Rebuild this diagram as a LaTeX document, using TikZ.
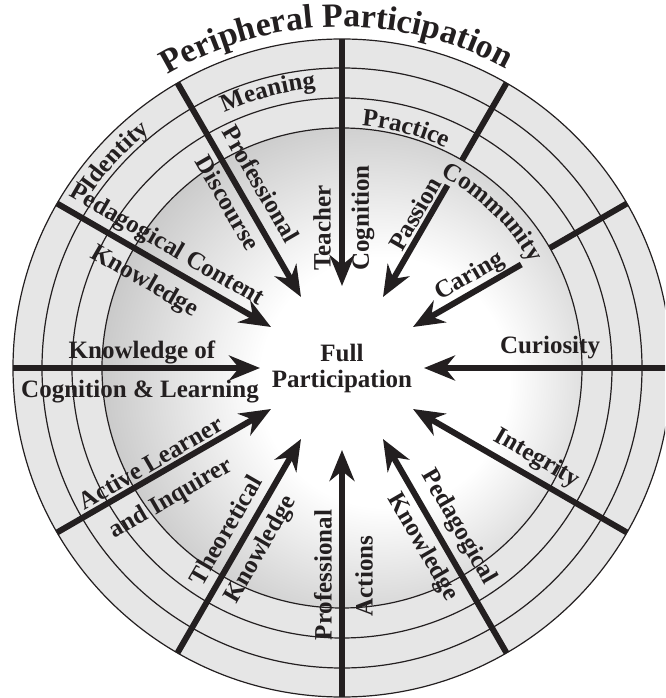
\documentclass[tikz,border=0pt]{standalone}
\usepackage{fontspec}
\setmainfont{Liberation Serif}
\usetikzlibrary{arrows.meta,decorations.text}

\definecolor{ink}{HTML}{231F20}
\definecolor{ringgray}{HTML}{E6E6E6}
\pgfdeclareradialshading{coreshade}{\pgfpoint{6bp}{-2bp}}{color(0bp)=(white); color(13bp)=(white); color(30bp)=(black!24); color(50bp)=(black!24)}
\newcommand\lblfont{\fontsize{25}{26}\selectfont\bfseries}
\newcommand\ppfont{\fontsize{34}{36}\selectfont\bfseries}

\begin{document}
\begin{tikzpicture}[x=1pt,y=1pt,
    lbl/.style={font=\lblfont, text=ink, inner sep=0pt},
    spoke/.style={draw=ink, line width=6pt},
    arr/.style={spoke, -{Stealth[length=31pt,width=25pt,inset=10pt]}},
    ring/.style={draw=ink, line width=1.2pt},
    arclbl/.style={decorate, decoration={text along path, text align=center, text color=ink, text={#1}}}]
  % \draw[help lines, gray!50, very thin] (-342,-330) grid[step=50] (323,368);
  \useasboundingbox (-342,-330) rectangle (323,368);
  \clip (-342,-330) rectangle (323,368);

  % rings
  \fill[ringgray] (0,0) circle[radius=329pt];
  \shade[shading=coreshade] (0,0) circle[radius=240pt];
  \foreach \r in {240,270,300,329}
    \draw[ring] (0,0) circle[radius=\r pt];

  % spokes
  \foreach \a in {0,90,120,150,180,210,240,270,300,330} {
    \coordinate (out\a) at (\a:329);
    \coordinate (tip\a) at (\a:82);
    \draw[arr] (out\a) -- (tip\a);
  }
  \foreach \a/\s in {60/211,30/207} {
    \coordinate (out\a) at (\a:329);
    \coordinate (cut\a) at (\a:240);
    \coordinate (start\a) at (\a:\s);
    \coordinate (tip\a) at (\a:82);
    \draw[spoke] (out\a) -- (cut\a);
    \draw[arr] (start\a) -- (tip\a);
  }

  \node[lbl, align=center] (full) at (0,0) {Full\\Participation};

  % ring labels
  \path[arclbl={|\ppfont|Peripheral Participation}] (151:341) arc[start angle=151, end angle=31, radius=341pt];
  \path[arclbl={|\lblfont|Identity}] (167:305) arc[start angle=167, end angle=107, radius=305pt];
  \path[arclbl={|\lblfont|Meaning}] (135:281) arc[start angle=135, end angle=75, radius=281pt];
  \path[arclbl={|\lblfont|Practice}] (105:243) arc[start angle=105, end angle=45, radius=243pt];
  \path[arclbl={|\lblfont|Community}] (76:216) arc[start angle=76, end angle=16, radius=216pt];

  % spoke labels
  \node[lbl, rotate=90] (teacher) at ([shift={(180:20)}]90:140) {Teacher};
  \node[lbl, rotate=90] (cognition) at ([shift={(180:-21)}]90:150) {Cognition};
  \node[lbl, rotate=-60] (profdisc) at ([shift={(30:22)}]120:200) {Professional};
  \node[lbl, rotate=-60] (discourse) at ([shift={(30:-16)}]120:200) {Discourse};
  \node[lbl, rotate=60] (passion) at ([shift={(150:14)}]60:170) {Passion};
  \node[lbl, rotate=30] (caring) at ([shift={(120:15)}]30:156) {Caring};
  \node[lbl] (curiosity) at ([shift={(90:20)}]0:208) {Curiosity};
  \node[lbl, rotate=-30] (integrity) at ([shift={(60:19)}]330:214) {Integrity};
  \node[lbl, rotate=-60] (pedag) at ([shift={(30:21)}]300:196) {Pedagogical};
  \node[lbl, rotate=-60] (pedknow) at ([shift={(30:-20)}]300:196) {Knowledge};
  \node[lbl, rotate=90] (profact) at ([shift={(180:19)}]270:207) {Professional};
  \node[lbl, rotate=90] (actions) at ([shift={(180:-22)}]270:208) {Actions};
  \node[lbl, rotate=60] (theor) at ([shift={(150:20)}]240:199) {Theoretical};
  \node[lbl, rotate=60] (theoknow) at ([shift={(150:-21)}]240:198) {Knowledge};
  \node[lbl, rotate=30] (active) at ([shift={(120:14)}]210:213) {Active Learner};
  \node[lbl, rotate=30] (inquirer) at ([shift={(120:-28)}]210:213) {and Inquirer};
  \node[lbl] (knowof) at ([shift={(90:16)}]180:200) {Knowledge of};
  \node[lbl] (coglearn) at ([shift={(90:-24)}]180:202) {Cognition \& Learning};
  \node[lbl, rotate=-30] (pedcont) at ([shift={(60:18)}]150:213) {Pedagogical Content};
  \node[lbl, rotate=-30] (pckknow) at ([shift={(60:-24)}]150:214) {Knowledge};
\end{tikzpicture}
\end{document}
